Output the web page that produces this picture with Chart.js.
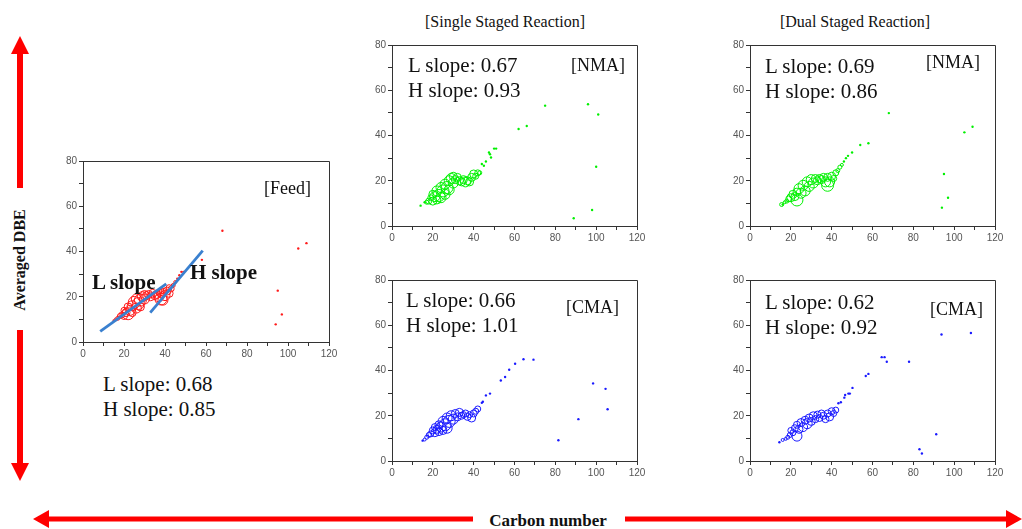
<!DOCTYPE html>
<html><head><meta charset="utf-8">
<script src="https://cdn.jsdelivr.net/npm/chart.js@4.4.1/dist/chart.umd.min.js"></script>
<style>
html,body{margin:0;padding:0;background:#fff;}
#wrap{position:relative;width:1022px;height:529px;overflow:hidden;background:#fff;}
canvas{position:absolute;}
svg{position:absolute;left:0;top:0;}
.t{position:absolute;font-family:"Liberation Serif","Times New Roman",serif;color:#111;white-space:nowrap;line-height:1;}
.b{font-weight:bold;}
</style></head><body><div id="wrap">
<svg width="1022" height="529">
  <polygon fill="#ff0000" points="20,36 29,54 23,54 23,188 17,188 17,54 11,54"/>
  <polygon fill="#ff0000" points="17,330 23,330 23,463 29,463 20,481 11,463 17,463"/>
  <polygon fill="#ff0000" points="33,519 49,510 49,516.5 473,516.5 473,521.5 49,521.5 49,528"/>
  <polygon fill="#ff0000" points="625,516.5 1006,516.5 1006,510 1022,519 1006,528 1006,521.5 625,521.5"/>
</svg>
<canvas id="cFeed" width="288" height="211" style="left:53px;top:151px"></canvas>
<canvas id="cSN" width="287" height="211" style="left:362px;top:35px"></canvas>
<canvas id="cDN" width="287" height="211" style="left:720px;top:35px"></canvas>
<canvas id="cSC" width="287" height="211" style="left:362px;top:270px"></canvas>
<canvas id="cDC" width="287" height="211" style="left:720px;top:270px"></canvas>

<div class="t b" style="left:20px;top:260px;font-size:16px;transform:translate(-50%,-50%) rotate(-90deg);transform-origin:center;">Averaged DBE</div>
<div class="t b" style="left:548px;top:512px;font-size:17px;transform:translateX(-50%);">Carbon number</div>

<div class="t" style="left:505px;top:14px;font-size:16px;transform:translateX(-50%);">[Single Staged Reaction]</div>
<div class="t" style="left:855px;top:14px;font-size:16px;transform:translateX(-50%);">[Dual Staged Reaction]</div>

<div class="t" style="left:264px;top:179px;font-size:18px;">[Feed]</div>
<div class="t b" style="left:92px;top:272px;font-size:21px;">L slope</div>
<div class="t b" style="left:190px;top:262px;font-size:21px;">H slope</div>
<div class="t" style="left:103px;top:374px;font-size:21px;">L slope: 0.68</div>
<div class="t" style="left:103px;top:399px;font-size:21px;">H slope: 0.85</div>

<div class="t" style="left:408px;top:55px;font-size:21px;">L slope: 0.67</div>
<div class="t" style="left:408px;top:80px;font-size:21px;">H slope: 0.93</div>
<div class="t" style="left:571px;top:56px;font-size:18px;">[NMA]</div>

<div class="t" style="left:765px;top:56px;font-size:21px;">L slope: 0.69</div>
<div class="t" style="left:765px;top:81px;font-size:21px;">H slope: 0.86</div>
<div class="t" style="left:926px;top:53px;font-size:18px;">[NMA]</div>

<div class="t" style="left:406px;top:290px;font-size:21px;">L slope: 0.66</div>
<div class="t" style="left:406px;top:315px;font-size:21px;">H slope: 1.01</div>
<div class="t" style="left:566px;top:298px;font-size:18px;">[CMA]</div>

<div class="t" style="left:765px;top:292px;font-size:21px;">L slope: 0.62</div>
<div class="t" style="left:765px;top:317px;font-size:21px;">H slope: 0.92</div>
<div class="t" style="left:930px;top:300px;font-size:18px;">[CMA]</div>
</div>
<script>
// ---------- data (carbon number, averaged DBE, relative abundance %) ----------
const xTicks = [0, 20, 40, 60, 80, 100, 120];
const yTicks = [0, 20, 40, 60, 80];

const feedCarbon = [15,16,17,18,19,20,20,21,22,22,23,24,24,25,26,26,27,28,28,29,30,30,31,32,33,34,35,36,37,37,38,38,39,39,40,41,42,42,43,44,45,46,47,48,49,58,68,94,95,97,105,109];
const feedDBE = [9.5,10,10.5,11.5,12,11.5,14,13,12.5,15.5,14,16,13,17.5,15,19,17,18.5,15.5,20,19,21,20.5,21,20,21.5,20.5,21,20,22,19,21.5,18.5,22,20.5,22.5,21.5,24,23.5,25,26.5,28,29.5,31,31,36.3,49.2,7.8,22.7,12.2,41.3,43.7];
const feedAbund = [0,10,20,30,40,50,40,60,100,60,80,80,60,100,80,80,100,100,60,80,80,60,60,60,60,60,60,60,80,40,100,60,80,60,80,60,60,40,40,20,10,0,0,0,0,0,0,0,0,0,0,0];
const feedLFitX = [8.4, 40.6];
const feedLFitY = [4.7, 25.7];
const feedHFitX = [32.8, 58.4];
const feedHFitY = [13, 40.4];

const singleNmaCarbon = [14,16,17,18,19,20,20,21,22,22,23,24,24,25,26,26,27,28,28,29,30,30,31,32,33,34,35,36,37,38,39,40,41,42,43,44,45,46,47.5,48,48.5,50,51,62,66,75,89,96,98,100,101];
const singleNmaDBE = [9,10.5,10.5,11,12.5,11,14,13,15.5,11.5,13.5,17,12.5,15.5,18.5,14,17,20,16,21,19,22,20.5,21.5,20,19.5,20.5,19.5,20,19.5,21.5,23,22,23.5,23.5,27.4,26.6,28.5,32.5,31.7,30.3,34.2,34.2,42.9,44.2,53.2,3.4,53.8,7.1,26.2,49.3];
const singleNmaAbund = [0,0,20,40,40,60,60,80,80,60,100,80,80,100,80,80,100,80,80,80,80,60,60,60,60,60,60,80,60,60,60,60,40,40,20,0,0,0,0,0,0,0,0,0,0,0,0,0,0,0,0];

const dualNmaCarbon = [15.5,16,17,18,19,20,21,22,23,23,24,25,26,27,28,29,30,31,32,33,34,35,36,37,38,38,39,40,41,42,43,44,45,46,47,48,50,54,58,68,94,95,97,105,109];
const dualNmaDBE = [9.5,9.5,10.5,11,12,12.5,14,13,11.5,15,16.5,14.5,18,15.5,19.5,17.5,20.5,19,21,20,21,20.5,21.5,19.5,18,21.5,19.5,22,21,23.5,24.5,26,27,28.5,30,31,32.5,35.8,36.6,49.9,8.1,23,12.5,41.4,43.9];
const dualNmaAbund = [20,0,10,20,40,60,60,60,100,60,80,80,80,80,80,80,80,80,60,60,60,60,60,80,100,60,80,60,40,40,20,20,10,0,0,0,0,0,0,0,0,0,0,0,0];

const singleCmaCarbon = [15,16,17,18,19,20,21,21,22,23,23,24,25,25,26,27,27,28,29,30,31,32,33,34,35,36,37,38,39,40,41,42,44,44.5,46,48,53.3,55.4,57.4,60.3,64.4,69.3,81.5,91.3,98.5,104.6,105.6];
const singleCmaDBE = [9,9.5,10.5,11.5,12,13.5,12.5,15,14,16,13,15,17.5,13.5,16,19,14.5,17.5,20,18.5,21,19.5,21.5,20,20.5,21,19.5,20.5,19,21,22,23,25.7,26.2,29,29.8,35.6,37.1,40.3,43,45,44.8,9.2,18.5,34.3,31.9,22.9];
const singleCmaAbund = [0,10,20,30,40,50,60,50,60,60,60,80,80,60,100,80,80,100,80,80,60,60,60,50,40,50,50,40,60,50,40,40,0,0,0,0,0,0,0,0,0,0,0,0,0,0,0];

const dualCmaCarbon = [14.4,16,17.5,18.5,19.5,20,21,22,23,23,24,25,26,27,28,29,30,31,32,33,34,35,36,37,38,39,40,41,42,43.3,44.5,46.2,46.6,48.2,48.9,50.2,56.7,58,64.5,65.9,67,77.9,83,84.2,91.2,93.8,108.2];
const dualCmaDBE = [8.3,9.3,9.8,10.5,11.5,13.5,12.5,14.5,11,16,14,17,15,18,16.5,19,17.5,20,18.5,20.5,19,21,20,18.5,21,19.5,22,21,22.5,25.5,26,28,29.2,29.8,29.8,32.3,37.6,38.5,45.9,45.9,43.9,43.9,5.2,3.3,11.8,55.9,56.6];
const dualCmaAbund = [0,10,10,20,30,40,40,50,80,50,60,60,70,60,80,60,60,60,50,50,50,50,50,50,50,60,50,40,40,0,0,0,0,0,0,0,0,0,0,0,0,0,0,0,0,0,0];

// ---------- drawing ----------
const RED = '#ff1a1a', GREEN = '#00f000', BLUE = '#1a1aff', FIT = '#3a80cf';
function bubbleSize(a) { return a > 0 ? 1 + a * 0.05 : 1.2; }
function points(cs, ds, as) { return cs.map((c, i) => ({ x: c, y: ds[i], r: bubbleSize(as[i]), a: as[i] })); }
function linePts(xs, ys) { return xs.map((x, i) => ({ x: x, y: ys[i] })); }

const framePlugin = {
  id: 'frame',
  afterDraw(chart) {
    const a = chart.chartArea, ctx = chart.ctx;
    ctx.save();
    ctx.strokeStyle = '#333';
    ctx.lineWidth = 1;
    ctx.beginPath();
    ctx.moveTo(Math.round(a.left) + 0.5, Math.round(a.top) + 0.5);
    ctx.lineTo(Math.round(a.right) + 0.5, Math.round(a.top) + 0.5);
    ctx.lineTo(Math.round(a.right) + 0.5, Math.round(a.bottom) + 0.5);
    ctx.stroke();
    ctx.restore();
  }
};

function axis(min, max, labels, isX) {
  return {
    type: 'linear', min: min, max: max,
    afterBuildTicks(s) {
      const t = [];
      for (let v = min; v <= max; v += 10) t.push({ value: v });
      s.ticks = t;
    },
    ticks: {
      autoSkip: false, maxRotation: 0, padding: 2,
      color: '#555',
      font: { family: '"Liberation Sans", Arial, sans-serif', size: 10 },
      callback: v => labels.includes(v) ? String(v) : ''
    },
    grid: { drawOnChartArea: false, drawTicks: true, tickLength: 4, color: '#333' },
    border: { color: '#333', width: 1 },
    afterFit(s) { if (isX) s.height = 20; else s.width = 30; }
  };
}

function isDot(ctx) { return ctx.raw && ctx.raw.a === 0; }

function makeChart(id, cs, ds, as, color, extra) {
  const datasets = [{
    type: 'bubble',
    data: points(cs, ds, as),
    borderColor: color,
    backgroundColor: ctx => isDot(ctx) ? color : 'rgba(0,0,0,0)',
    borderWidth: ctx => isDot(ctx) ? 0 : 1,
    order: 2
  }].concat(extra || []);
  new Chart(document.getElementById(id), {
    type: 'bubble',
    data: { datasets: datasets },
    options: {
      responsive: false, animation: false,
      layout: { padding: { left: 0, top: 10, right: 12, bottom: 0 } },
      plugins: { legend: { display: false }, tooltip: { enabled: false } },
      events: [],
      scales: { x: axis(0, 120, xTicks, true), y: axis(0, 80, yTicks, false) }
    },
    plugins: [framePlugin]
  });
}

const fitStyle = { type: 'line', borderColor: FIT, borderWidth: 2.8, pointRadius: 0, fill: false, order: 0 };
makeChart('cFeed', feedCarbon, feedDBE, feedAbund, RED, [
  Object.assign({ data: linePts(feedLFitX, feedLFitY) }, fitStyle),
  Object.assign({ data: linePts(feedHFitX, feedHFitY) }, fitStyle)
]);
makeChart('cSN', singleNmaCarbon, singleNmaDBE, singleNmaAbund, GREEN);
makeChart('cDN', dualNmaCarbon, dualNmaDBE, dualNmaAbund, GREEN);
makeChart('cSC', singleCmaCarbon, singleCmaDBE, singleCmaAbund, BLUE);
makeChart('cDC', dualCmaCarbon, dualCmaDBE, dualCmaAbund, BLUE);
</script>
</body></html>
